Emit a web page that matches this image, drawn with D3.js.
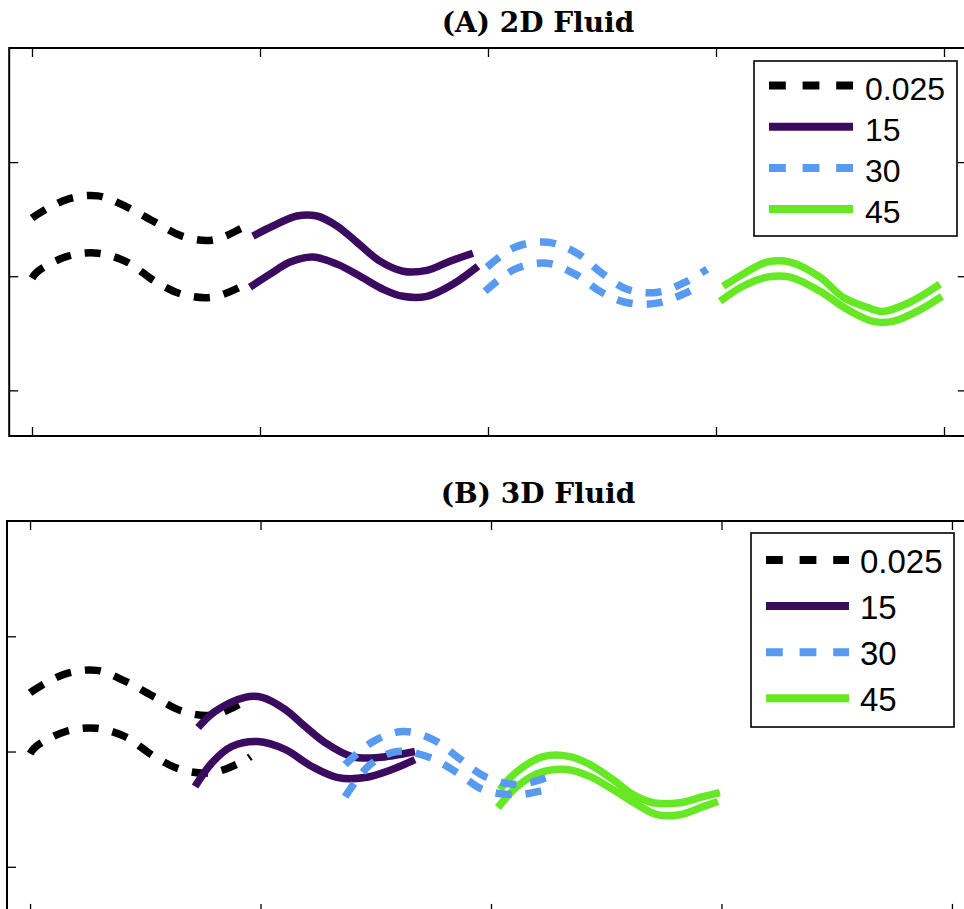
<!DOCTYPE html>
<html>
<head>
<meta charset="utf-8">
<script src="https://cdn.jsdelivr.net/npm/d3@7"></script>
<style>
  html, body { margin: 0; padding: 0; background: #fff; }
  svg { display: block; }
</style>
</head>
<body>
<svg id="chart" width="964" height="909"></svg>
<script>
// ---- tick positions (no labels are shown) ----
const xTicks = [0, 1, 2, 3, 4];
const yTicks = [-0.5, 0, 0.5];

// ---- legend entries ----
const seriesNames  = ["0.025", "15", "30", "45"];
const seriesColors = ["#000000", "#3b0b5f", "#579af0", "#66e824"];
const seriesDashed = [true, false, true, false];

// ---- body outline curves, [x, y] pairs ----
// reference case 0.025 (identical in both fluids)
const blackUpper = [[0,0.255],[0.03,0.275],[0.158,0.338],[0.289,0.352],[0.417,0.303],[0.539,0.237],[0.658,0.176],[0.789,0.158],[0.921,0.211],[0.956,0.229]];
const blackLower = [[0,-0.009],[0.026,0.022],[0.158,0.088],[0.289,0.101],[0.417,0.062],[0.539,-0.022],[0.658,-0.079],[0.789,-0.092],[0.921,-0.044],[0.956,-0.022]];

// 2D fluid
const purpleUpperA = [[0.969,0.176],[1.057,0.220],[1.162,0.264],[1.25,0.264],[1.338,0.220],[1.425,0.149],[1.526,0.066],[1.627,0.022],[1.732,0.026],[1.833,0.066],[1.934,0.101]];
const purpleLowerA = [[0.956,-0.048],[1.044,0.009],[1.132,0.062],[1.232,0.084],[1.338,0.053],[1.439,0],[1.54,-0.057],[1.627,-0.088],[1.732,-0.088],[1.846,-0.035],[1.956,0.044]];
const blueUpperA   = [[1.996,0.04],[2.118,0.127],[2.263,0.149],[2.39,0.101],[2.5,0.013],[2.61,-0.057],[2.746,-0.070],[2.873,-0.022],[2.961,0.031]];
const blueLowerA   = [[1.987,-0.066],[2.118,0.031],[2.259,0.057],[2.382,0.009],[2.491,-0.066],[2.601,-0.114],[2.732,-0.119],[2.864,-0.075],[2.943,-0.035]];
const greenUpperA  = [[3.031,-0.044],[3.118,0.009],[3.224,0.062],[3.325,0.062],[3.456,-0.004],[3.557,-0.092],[3.662,-0.136],[3.732,-0.154],[3.851,-0.114],[3.982,-0.035]];
const greenLowerA  = [[3.018,-0.110],[3.118,-0.044],[3.224,-0.004],[3.325,-0.004],[3.456,-0.066],[3.575,-0.145],[3.689,-0.198],[3.776,-0.198],[3.882,-0.154],[3.991,-0.088]];

// 3D fluid
const purpleUpperB = [[0.729,0.104],[0.803,0.174],[0.933,0.235],[1.007,0.235],[1.106,0.183],[1.193,0.109],[1.28,0.039],[1.397,-0.022],[1.51,-0.026],[1.67,0]];
const purpleLowerB = [[0.716,-0.152],[0.79,-0.048],[0.876,0.022],[0.989,0.043],[1.106,0.009],[1.223,-0.065],[1.336,-0.113],[1.453,-0.113],[1.57,-0.078],[1.67,-0.035]];
const blueUpperB   = [[1.367,-0.057],[1.488,0.043],[1.618,0.087],[1.748,0.052],[1.857,-0.026],[1.974,-0.109],[2.113,-0.143],[2.243,-0.113],[2.278,-0.1]];
const blueLowerB   = [[1.367,-0.196],[1.475,-0.057],[1.592,0],[1.735,-0.026],[1.852,-0.091],[1.965,-0.165],[2.113,-0.187],[2.243,-0.165],[2.278,-0.157]];
const greenUpperB  = [[2.039,-0.165],[2.113,-0.087],[2.226,-0.022],[2.343,-0.022],[2.43,-0.057],[2.529,-0.122],[2.616,-0.187],[2.703,-0.222],[2.82,-0.222],[2.92,-0.196],[2.993,-0.178]];
const greenLowerB  = [[2.03,-0.243],[2.113,-0.152],[2.213,-0.091],[2.33,-0.078],[2.43,-0.109],[2.529,-0.165],[2.633,-0.23],[2.72,-0.274],[2.82,-0.274],[2.92,-0.239],[2.985,-0.217]];

const xDomain = [-0.1, 4.1];
const yDomain = [-0.7, 1.0];

const panels = [
  {
    title: "(A) 2D Fluid", titleX: 538, titleY: 32,
    xRange: [9.2, 966.8], yRange: [436, 48],
    curves: [
      [0, blackUpper], [0, blackLower],
      [1, purpleUpperA], [1, purpleLowerA],
      [3, greenUpperA], [3, greenLowerA],
      [2, blueUpperA], [2, blueLowerA]
    ],
    legend: { x0: 754, y0: 61, x1: 957, y1: 236, sx0: 769, sx1: 853, tx: 865, row0: 85.5, step: 41.2, font: 32, dy: 14 }
  },
  {
    title: "(B) 3D Fluid", titleX: 538, titleY: 503,
    xRange: [7, 975], yRange: [912.9, 521],
    curves: [
      [0, blackUpper], [0, blackLower],
      [1, purpleUpperB], [1, purpleLowerB],
      [3, greenUpperB], [3, greenLowerB],
      [2, blueUpperB], [2, blueLowerB]
    ],
    legend: { x0: 751, y0: 533, x1: 954, y1: 727, sx0: 766, sx1: 849, tx: 860, row0: 560, step: 46.1, font: 33, dy: 13 }
  }
];

const svg = d3.select("#chart");
const LW = 7.5;

panels.forEach(p => {
  const x = d3.scaleLinear().domain(xDomain).range(p.xRange);
  const y = d3.scaleLinear().domain(yDomain).range(p.yRange);
  const g = svg.append("g");

  // title
  g.append("text")
    .attr("x", p.titleX).attr("y", p.titleY)
    .attr("text-anchor", "middle")
    .attr("font-family", "DejaVu Serif")
    .attr("font-weight", "bold")
    .attr("font-size", 28)
    .text(p.title);

  // curves
  const line = d3.line().x(d => x(d[0])).y(d => y(d[1])).curve(d3.curveCatmullRom.alpha(0.5));
  p.curves.forEach(([si, pts]) => {
    g.append("path")
      .attr("d", line(pts))
      .attr("fill", "none")
      .attr("stroke", seriesColors[si])
      .attr("stroke-width", LW)
      .attr("stroke-linejoin", "round")
      .attr("stroke-dasharray", seriesDashed[si] ? "16,14" : null);
  });

  // axes box with inward ticks on all sides, no labels
  const [xl, xr] = p.xRange;
  const [yb, yt] = p.yRange;
  const tk = 9;
  const axStyle = sel => {
    sel.select(".domain").remove();
    sel.selectAll(".tick line").attr("stroke", "#000").attr("stroke-width", 1.3);
  };
  g.append("g").attr("transform", `translate(0,${yb})`)
    .call(d3.axisBottom(x).tickValues(xTicks).tickSize(-tk).tickFormat("")).call(axStyle);
  g.append("g").attr("transform", `translate(0,${yt})`)
    .call(d3.axisTop(x).tickValues(xTicks).tickSize(-tk).tickFormat("")).call(axStyle);
  g.append("g").attr("transform", `translate(${xl},0)`)
    .call(d3.axisLeft(y).tickValues(yTicks).tickSize(-tk).tickFormat("")).call(axStyle);
  g.append("g").attr("transform", `translate(${xr},0)`)
    .call(d3.axisRight(y).tickValues(yTicks).tickSize(-tk).tickFormat("")).call(axStyle);
  g.append("rect")
    .attr("x", xl).attr("y", yt).attr("width", xr - xl).attr("height", yb - yt)
    .attr("fill", "none").attr("stroke", "#000").attr("stroke-width", 2);

  // legend
  const L = p.legend;
  g.append("rect")
    .attr("x", L.x0).attr("y", L.y0).attr("width", L.x1 - L.x0).attr("height", L.y1 - L.y0)
    .attr("fill", "#fff").attr("stroke", "#000").attr("stroke-width", 1.6);
  seriesNames.forEach((name, i) => {
    const ry = L.row0 + i * L.step;
    g.append("line")
      .attr("x1", L.sx0).attr("x2", L.sx1).attr("y1", ry).attr("y2", ry)
      .attr("stroke", seriesColors[i]).attr("stroke-width", 8)
      .attr("stroke-dasharray", seriesDashed[i] ? "16.8,16.8" : null);
    g.append("text")
      .attr("x", L.tx).attr("y", ry + L.dy)
      .attr("font-family", "Liberation Sans, Arial, sans-serif")
      .attr("font-size", L.font)
      .text(name);
  });
});
</script>
</body>
</html>
